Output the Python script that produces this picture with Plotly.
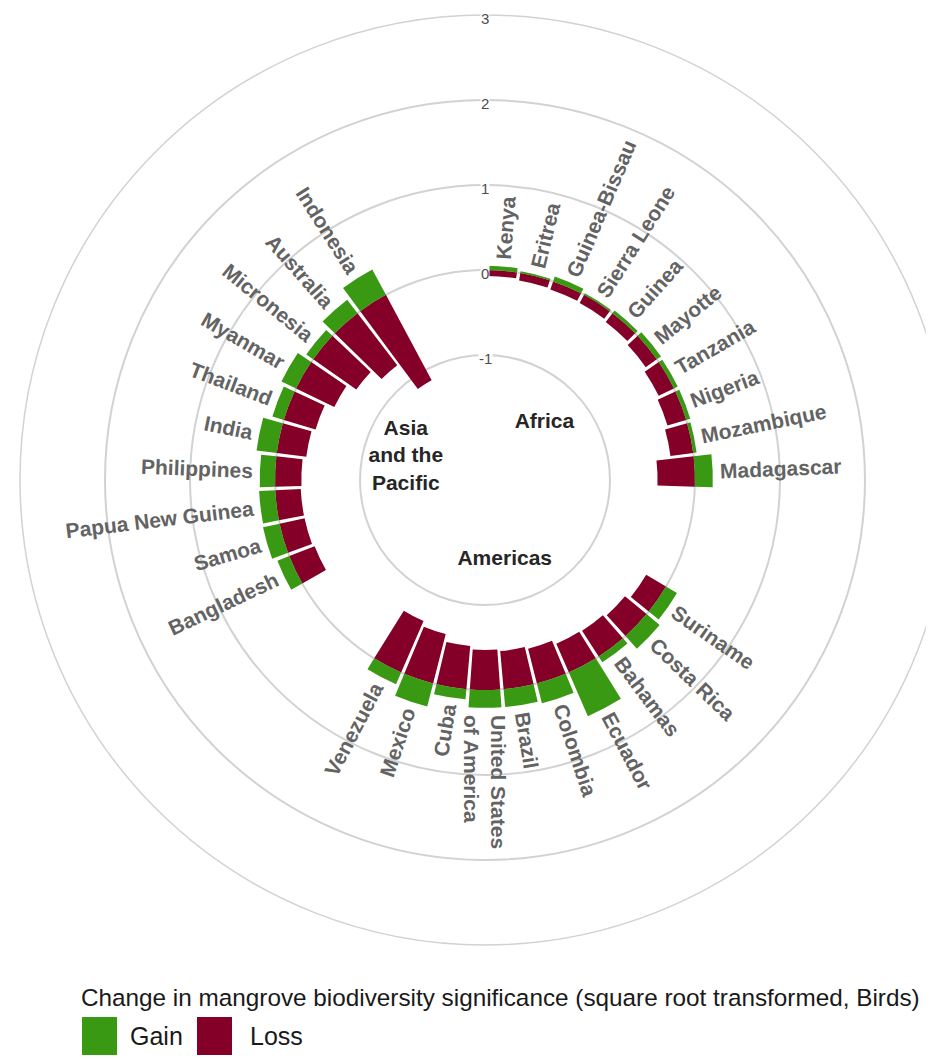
import math
import plotly.graph_objects as go

# data (square-root transformed change, Birds)
africa = ["Kenya", "Eritrea", "Guinea-Bissau", "Sierra Leone", "Guinea",
          "Mayotte", "Tanzania", "Nigeria", "Mozambique", "Madagascar"]
africa_loss = [0.07, 0.09, 0.10, 0.11, 0.13, 0.16, 0.20, 0.23, 0.27, 0.44]
africa_gain = [0.05, 0.02, 0.06, 0.02, 0.04, 0.06, 0.05, 0.05, 0.04, 0.21]

americas = ["Suriname", "Costa Rica", "Bahamas", "Ecuador", "Colombia",
            "Brazil", "United States<br>of America", "Cuba", "Mexico", "Venezuela"]
americas_loss = [0.27, 0.33, 0.36, 0.37, 0.42, 0.45, 0.47, 0.51, 0.60, 0.66]
americas_gain = [0.15, 0.20, 0.08, 0.56, 0.24, 0.21, 0.21, 0.12, 0.28, 0.15]

asia = ["Bangladesh", "Samoa", "Papua New Guinea", "Philippines", "India",
        "Thailand", "Myanmar", "Micronesia", "Australia", "Indonesia"]
asia_loss = [0.32, 0.30, 0.30, 0.31, 0.35, 0.39, 0.50, 0.62, 0.77, 1.14]
asia_gain = [0.15, 0.20, 0.19, 0.18, 0.24, 0.14, 0.19, 0.10, 0.20, 0.34]

group_names = ["Africa", "Americas", "Asia<br>and the<br>Pacific"]
radial_ticks = [-1, 0, 1, 2, 3]

GAIN = "#3a9912"
LOSS = "#850029"
EMPTY = 3  # empty slots after each group

# slot layout like the usual ggplot circular barplot
names, loss, gain, slot, group_slots = [], [], [], [], []
i = 0
for nm, ls, gn in [(africa, africa_loss, africa_gain),
                   (americas, americas_loss, americas_gain),
                   (asia, asia_loss, asia_gain)]:
    idx = []
    for k in range(len(nm)):
        i += 1
        names.append(nm[k])
        loss.append(ls[k])
        gain.append(gn[k])
        slot.append(i)
        idx.append(i)
    group_slots.append(sum(idx) / len(idx))
    i += EMPTY
n_slots = i
step = 360 / n_slots
theta = [(s - 0.5) * step for s in slot]
group_theta = [(s - 0.5) * step for s in group_slots]

# page geometry (figure px; the page body adds an 8px offset, the right edge overflows)
W, H = 950, 1059
CX, CY, RAD = 477, 472, 465
R_MIN, R_MAX = -2.47, 3.0
FONT = "Arial, Liberation Sans"

fig = go.Figure()
fig.add_trace(go.Barpolar(theta=theta, r=loss, base=[-v for v in loss],
                          width=step * 0.9, marker_color=LOSS, marker_line_width=0,
                          name="Loss", showlegend=False))
fig.add_trace(go.Barpolar(theta=theta, r=gain, base=0,
                          width=step * 0.9, marker_color=GAIN, marker_line_width=0,
                          name="Gain", showlegend=False))
fig.add_trace(go.Scatterpolar(theta=group_theta, r=[-1.5] * 3, text=group_names, mode="text",
                              textfont=dict(size=21, color="#262626", family=FONT, weight="bold"),
                              hoverinfo="skip", showlegend=False))

# rotated country labels (annotations placed from the polar geometry)
HB = {' ': 278, '-': 333, 'A': 722, 'B': 722, 'C': 722, 'E': 667, 'G': 778, 'I': 278,
      'K': 722, 'M': 833, 'N': 722, 'P': 667, 'R': 722, 'S': 667, 'T': 611, 'U': 722,
      'V': 667, 'a': 556, 'b': 611, 'c': 556, 'd': 611, 'e': 556, 'f': 333, 'g': 611,
      'h': 611, 'i': 278, 'l': 278, 'm': 889, 'n': 611, 'o': 611, 'p': 611, 'q': 611,
      'r': 389, 's': 556, 't': 333, 'u': 611, 'w': 778, 'y': 556, 'z': 500}
FS = 21


def text_len(s):
    return max(sum(HB.get(c, 600) for c in line) for line in s.split("<br>")) * FS / 1000


def rpx(v):
    return (v - R_MIN) / (R_MAX - R_MIN) * RAD


def paper(px, py):
    return px / W, 1 - py / H


annotations = []
for nm, th, g in zip(names, theta, gain):
    L = text_len(nm)
    d = rpx(g) + 7 + L / 2
    a = math.radians(th)
    x, y = paper(CX + d * math.sin(a), CY - d * math.cos(a))
    if th <= 180:
        ang, align = th - 90, "left"
    else:
        ang, align = th - 270, "right"
    annotations.append(dict(x=x, y=y, xref="paper", yref="paper",
                            text=nm, showarrow=False, textangle=ang, align=align,
                            xanchor="center", yanchor="middle",
                            font=dict(size=FS, color="#636363", family=FONT, weight="bold")))

# radial tick labels sitting on the rings, along the top
for t in radial_ticks:
    x, y = paper(CX, CY - rpx(t) + 3)
    annotations.append(dict(x=x, y=y, xref="paper", yref="paper", text=str(t),
                            showarrow=False, xanchor="center", yanchor="middle",
                            bgcolor="white", borderpad=0,
                            font=dict(size=15, color="#4d4d4d", family=FONT)))

# legend
x, y = paper(71, 989)
annotations.append(dict(x=x, y=y, xref="paper", yref="paper",
                        text="Change in mangrove biodiversity significance (square root transformed, Birds)",
                        showarrow=False, xanchor="left", yanchor="middle",
                        font=dict(size=24.3, color="#1a1a1a", family=FONT)))
shapes = []
for lab, col, x0, tx in [("Gain", GAIN, 74, 120), ("Loss", LOSS, 189, 240)]:
    shapes.append(dict(type="rect", xref="paper", yref="paper",
                       x0=x0 / W, x1=(x0 + 35) / W, y0=1 - 1047 / H, y1=1 - 1009 / H,
                       fillcolor=col, line_width=0))
    x, y = paper(tx, 1028)
    annotations.append(dict(x=x, y=y, xref="paper", yref="paper",
                            text=lab, showarrow=False, xanchor="left", yanchor="middle",
                            font=dict(size=25, color="#1a1a1a", family=FONT)))

fig.update_layout(
    width=W, height=H,
    margin=dict(l=0, r=0, t=0, b=0),
    paper_bgcolor="white",
    font=dict(family=FONT),
    polar=dict(
        domain=dict(x=[(CX - RAD) / W, (CX + RAD) / W], y=[1 - (CY + RAD) / H, 1 - (CY - RAD) / H]),
        bgcolor="white",
        bargap=0,
        radialaxis=dict(range=[R_MIN, R_MAX], tickvals=radial_ticks, showticklabels=False,
                        ticks="", showline=False, gridcolor="#d2d2d2", gridwidth=1.5),
        angularaxis=dict(rotation=90, direction="clockwise", showticklabels=False, ticks="",
                         showgrid=False, showline=True, linecolor="#d2d2d2", linewidth=1.5),
    ),
    annotations=annotations,
    shapes=shapes,
)

fig.write_html("out.html")
